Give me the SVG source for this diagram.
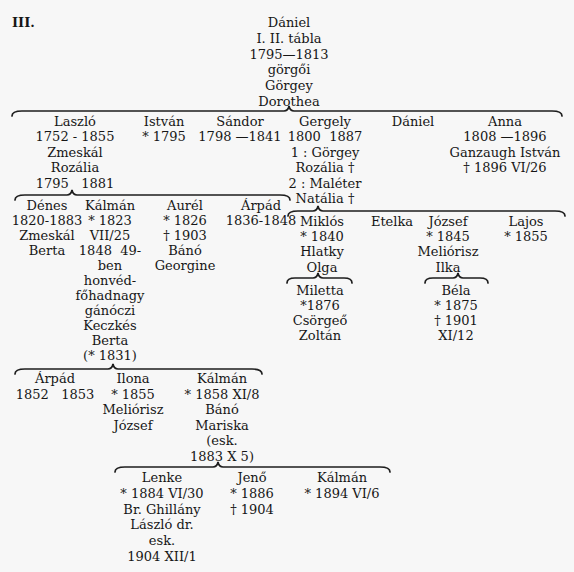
<svg xmlns="http://www.w3.org/2000/svg" width="574" height="572" viewBox="0 0 574 572">
<style>
text{font-family:"DejaVu Serif","Liberation Serif",serif;font-size:13px;fill:#161616;text-anchor:middle;white-space:pre}
.brace{fill:none;stroke:#1e1e1e;stroke-width:1.7;stroke-linecap:round}
</style>
<rect width="574" height="572" fill="#f7f7f7"/>
<text x="12" y="27" style="text-anchor:start;font-weight:bold">III.</text>
<g id="connectors">
<path class="brace" d="M12 116 Q12 111 22 111 L284 111 Q288 111 289 106 Q290 111 294 111 L552 111 Q562 111 562 116"/>
<path class="brace" d="M15 200 Q15 195 25 195 L67 195 Q71 195 72 190 Q73 195 77 195 L280 195 Q290 195 290 200"/>
<path class="brace" d="M288 216 Q288 211 298 211 L313 211 Q317 211 318 206 Q319 211 323 211 L555 211 Q565 211 565 216"/>
<path class="brace" d="M287 283 Q287 278 295 278 L313 278 Q317 278 318 273 Q319 278 323 278 L344 278 Q352 278 352 283"/>
<path class="brace" d="M425 283 Q425 278 433 278 L453 278 Q457 278 458 273 Q459 278 463 278 L480 278 Q488 278 488 283"/>
<path class="brace" d="M15 374 Q15 369 25 369 L108 369 Q112 369 113 364 Q114 369 118 369 L252 369 Q262 369 262 374"/>
<path class="brace" d="M115 472 Q115 467 125 467 L213 467 Q217 467 218 462 Q219 467 223 467 L380 467 Q390 467 390 472"/>
</g>
<g id="daniel"><text x="289" y="27">Dániel<tspan x="289" dy="15.8">I. II. tábla</tspan><tspan x="289" dy="15.8">1795—1813</tspan><tspan x="289" dy="15.8">görgői</tspan><tspan x="289" dy="15.8">Görgey</tspan><tspan x="289" dy="15.8">Dorothea</tspan></text></g>
<g id="laszlo"><text x="75" y="126">Laszló<tspan x="75" dy="15.4">1752 - 1855</tspan><tspan x="75" dy="15.4">Zmeskál</tspan><tspan x="75" dy="15.4">Rozália</tspan><tspan x="75" dy="15.4">1795   1881</tspan></text></g>
<g id="istvan"><text x="164" y="126">István<tspan x="164" dy="15.4">* 1795</tspan></text></g>
<g id="sandor"><text x="240" y="126">Sándor<tspan x="240" dy="15.4">1798 —1841</tspan></text></g>
<g id="gergely"><text x="325" y="126">Gergely<tspan x="325" dy="15.4">1800  1887</tspan><tspan x="325" dy="15.4">1 : Görgey</tspan><tspan x="325" dy="15.4">Rozália †</tspan><tspan x="325" dy="15.4">2 : Maléter</tspan><tspan x="325" dy="15.4">Natália †</tspan></text></g>
<g id="daniel2"><text x="413" y="126">Dániel</text></g>
<g id="anna"><text x="505" y="126">Anna<tspan x="505" dy="15.4">1808 —1896</tspan><tspan x="505" dy="15.4">Ganzaugh István</tspan><tspan x="505" dy="15.4">† 1896 VI/26</tspan></text></g>
<g id="denes"><text x="47" y="210">Dénes<tspan x="47" dy="15">1820-1883</tspan><tspan x="47" dy="15">Zmeskál</tspan><tspan x="47" dy="15">Berta</tspan></text></g>
<g id="kalman1"><text x="110" y="210">Kálmán<tspan x="110" dy="15">* 1823</tspan><tspan x="110" dy="15">VII/25</tspan><tspan x="110" dy="15">1848  49-</tspan><tspan x="110" dy="15">ben</tspan><tspan x="110" dy="15">honvéd-</tspan><tspan x="110" dy="15">főhadnagy</tspan><tspan x="110" dy="15">gánóczi</tspan><tspan x="110" dy="15">Keczkés</tspan><tspan x="110" dy="15">Berta</tspan><tspan x="110" dy="15">(* 1831)</tspan></text></g>
<g id="aurel"><text x="185" y="210">Aurél<tspan x="185" dy="15">* 1826</tspan><tspan x="185" dy="15">† 1903</tspan><tspan x="185" dy="15">Bánó</tspan><tspan x="185" dy="15">Georgine</tspan></text></g>
<g id="arpad1"><text x="261" y="210">Árpád<tspan x="261" dy="15">1836-1848</tspan></text></g>
<g id="miklos"><text x="322" y="226">Miklós<tspan x="322" dy="15.2">* 1840</tspan><tspan x="322" dy="15.2">Hlatky</tspan><tspan x="322" dy="15.2">Olga</tspan></text></g>
<g id="etelka"><text x="392" y="226">Etelka</text></g>
<g id="jozsef"><text x="448" y="226">József<tspan x="448" dy="15.2">* 1845</tspan><tspan x="448" dy="15.2">Meliórisz</tspan><tspan x="448" dy="15.2">Ilka</tspan></text></g>
<g id="lajos"><text x="526" y="226">Lajos<tspan x="526" dy="15.2">* 1855</tspan></text></g>
<g id="miletta"><text x="320" y="295">Miletta<tspan x="320" dy="15">*1876</tspan><tspan x="320" dy="15">Csörgeő</tspan><tspan x="320" dy="15">Zoltán</tspan></text></g>
<g id="bela"><text x="456" y="295">Béla<tspan x="456" dy="15">* 1875</tspan><tspan x="456" dy="15">† 1901</tspan><tspan x="456" dy="15">XI/12</tspan></text></g>
<g id="arpad2"><text x="55" y="383">Árpád<tspan x="55" dy="15.5">1852   1853</tspan></text></g>
<g id="ilona"><text x="133" y="383">Ilona<tspan x="133" dy="15.5">* 1855</tspan><tspan x="133" dy="15.5">Meliórisz</tspan><tspan x="133" dy="15.5">József</tspan></text></g>
<g id="kalman2"><text x="222" y="383">Kálmán<tspan x="222" dy="15.5">* 1858 XI/8</tspan><tspan x="222" dy="15.5">Bánó</tspan><tspan x="222" dy="15.5">Mariska</tspan><tspan x="222" dy="15.5">(esk.</tspan><tspan x="222" dy="15.5">1883 X 5)</tspan></text></g>
<g id="lenke"><text x="162" y="482">Lenke<tspan x="162" dy="15.8">* 1884 VI/30</tspan><tspan x="162" dy="15.8">Br. Ghillány</tspan><tspan x="162" dy="15.8">László dr.</tspan><tspan x="162" dy="15.8">esk.</tspan><tspan x="162" dy="15.8">1904 XII/1</tspan></text></g>
<g id="jeno"><text x="252" y="482">Jenő<tspan x="252" dy="15.8">* 1886</tspan><tspan x="252" dy="15.8">† 1904</tspan></text></g>
<g id="kalman3"><text x="342" y="482">Kálmán<tspan x="342" dy="15.8">* 1894 VI/6</tspan></text></g>
</svg>
